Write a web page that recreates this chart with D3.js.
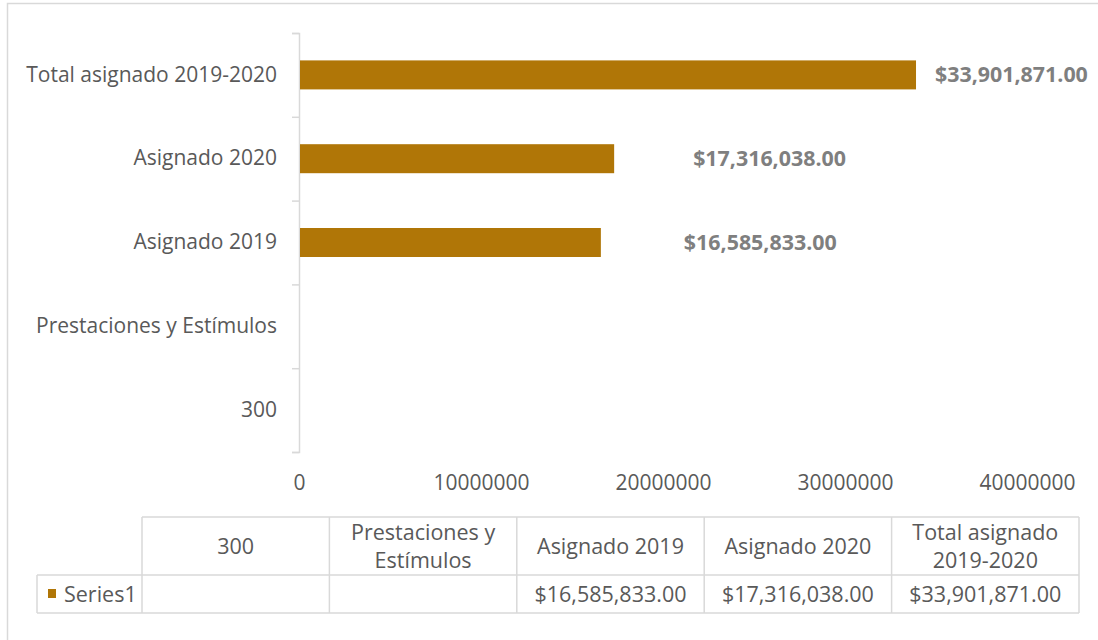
<!DOCTYPE html>
<html>
<head>
<meta charset="utf-8">
<script src="https://cdn.jsdelivr.net/npm/d3@7"></script>
<style>
  html, body { margin: 0; padding: 0; background: #ffffff; }
  svg { display: block; }
  text { font-family: "Open Sans", "Noto Sans", sans-serif; }
</style>
</head>
<body>
<svg id="chart" width="1098" height="640"></svg>
<script>
// ---- data ----
const categories = ["300", "Prestaciones y Estímulos", "Asignado 2019", "Asignado 2020", "Total asignado 2019-2020"];
const values = [null, null, 16585833, 17316038, 33901871];
const xTicks = [0, 10000000, 20000000, 30000000, 40000000];
const seriesName = "Series1";

// ---- layout / style ----
const W = 1098, H = 640;
const plot = { left: 299, right: 1027, top: 33, bottom: 452 };
const labelDx = [0, 0, 83, 79, 19];   // manual data-label offsets (as in the source)
const barColor = "#b07607";
const textColor = "#595959";
const labelColor = "#7f7f7f";
const lineColor = "#d9d9d9";
const fsAxis = 21;
const fsLabel = 21.4;
const fsTable = 21.5;

const svg = d3.select("#chart");

// outer chart-area border
svg.append("rect")
  .attr("x", 7.5).attr("y", 3.5)
  .attr("width", W + 10).attr("height", H + 10)
  .attr("fill", "#fff").attr("stroke", lineColor).attr("stroke-width", 1.5);

const x = d3.scaleLinear().domain([0, 40000000]).range([plot.left, plot.right]);
const y = d3.scaleBand().domain(categories).range([plot.bottom, plot.top])
  .paddingInner(0.654).paddingOuter(0.327);
const yBound = d3.scaleLinear().domain([0, categories.length]).range([plot.bottom, plot.top]);

// vertical axis line + boundary ticks
const gTicks = svg.append("g").attr("transform", `translate(${plot.left},0)`)
  .call(d3.axisLeft(yBound).tickValues(d3.range(categories.length + 1)).tickSize(7).tickFormat(""));
gTicks.selectAll("path.domain").attr("stroke", lineColor).attr("stroke-width", 1.5);
gTicks.selectAll(".tick line").attr("stroke", lineColor).attr("stroke-width", 1.5);

// category labels
const gY = svg.append("g").attr("transform", `translate(${plot.left},0)`)
  .call(d3.axisLeft(y).tickSize(0).tickPadding(22));
gY.select("path.domain").remove();
gY.selectAll("text").attr("fill", textColor).style("font-size", fsAxis + "px")
  .style("font-family", '"Open Sans", sans-serif');

// x axis tick labels
const gX = svg.append("g").attr("transform", `translate(0,${plot.bottom})`)
  .call(d3.axisBottom(x).tickValues(xTicks).tickSize(0).tickPadding(23).tickFormat(d3.format("d")));
gX.select("path.domain").remove();
gX.selectAll("text").attr("fill", textColor).style("font-size", fsAxis + "px")
  .style("font-family", '"Open Sans", sans-serif');

// bars
const rows = categories.map((c, i) => ({ c, v: values[i], dx: labelDx[i] }));
const withVal = rows.filter(d => d.v != null);
svg.append("g").selectAll("rect").data(withVal).join("rect")
  .attr("x", x(0) + 1)
  .attr("y", d => y(d.c))
  .attr("width", d => x(d.v) - x(0) - 1)
  .attr("height", y.bandwidth())
  .attr("fill", barColor);

const money = d3.format("$,.2f");
svg.append("g").selectAll("text").data(withVal).join("text")
  .attr("x", d => x(d.v) + d.dx)
  .attr("y", d => y(d.c) + y.bandwidth() / 2)
  .attr("dy", "0.35em")
  .attr("fill", labelColor)
  .style("font-size", fsLabel + "px").style("font-weight", "bold")
  .text(d => money(d.v));

// ---- data table ----
const tbl = { left: 37, colStart: 142, right: 1079, top: 517, mid: 575, bottom: 613 };
const col = d3.scaleBand().domain(categories).range([tbl.colStart, tbl.right]);
const gT = svg.append("g");
const line = (x1, y1, x2, y2) => gT.append("line")
  .attr("x1", x1).attr("y1", y1).attr("x2", x2).attr("y2", y2)
  .attr("stroke", lineColor).attr("stroke-width", 1.5);
line(tbl.colStart, tbl.top, tbl.right, tbl.top);
line(tbl.left, tbl.mid, tbl.right, tbl.mid);
line(tbl.left, tbl.bottom, tbl.right, tbl.bottom);
line(tbl.left, tbl.mid, tbl.left, tbl.bottom);
categories.forEach(c => line(col(c), tbl.top, col(c), tbl.bottom));
line(tbl.right, tbl.top, tbl.right, tbl.bottom);

// header cells with word-wrap
const hdr = gT.selectAll("text.hdr").data(categories).join("text")
  .attr("class", "hdr")
  .attr("text-anchor", "middle")
  .attr("fill", textColor)
  .style("font-size", fsTable + "px");
hdr.each(function (c) {
  const t = d3.select(this);
  const maxW = col.bandwidth() - 16;
  const words = c.split(" ");
  const lines = [];
  let cur = "";
  const probe = t.append("tspan");
  words.forEach(w => {
    const test = cur ? cur + " " + w : w;
    probe.text(test);
    if (probe.node().getComputedTextLength() > maxW && cur) { lines.push(cur); cur = w; }
    else cur = test;
  });
  lines.push(cur);
  probe.remove();
  const cx = col(c) + col.bandwidth() / 2;
  const cy = (tbl.top + tbl.mid) / 2;
  const lh = 28;
  lines.forEach((ln, i) => {
    t.append("tspan").attr("x", cx)
      .attr("y", cy + (i - (lines.length - 1) / 2) * lh)
      .attr("dy", "0.35em").text(ln);
  });
});

// data row
gT.selectAll("text.val").data(rows).join("text")
  .attr("class", "val")
  .attr("x", d => col(d.c) + col.bandwidth() / 2)
  .attr("y", (tbl.mid + tbl.bottom) / 2)
  .attr("dy", "0.35em")
  .attr("text-anchor", "middle")
  .attr("fill", textColor)
  .style("font-size", fsTable + "px")
  .text(d => d.v == null ? "" : money(d.v));

// legend key in table
gT.append("rect").attr("x", 48).attr("y", 589).attr("width", 8).attr("height", 9).attr("fill", barColor);
gT.append("text").attr("x", 64).attr("y", (tbl.mid + tbl.bottom) / 2).attr("dy", "0.35em")
  .attr("fill", textColor).style("font-size", fsTable + "px").text(seriesName);
</script>
</body>
</html>
